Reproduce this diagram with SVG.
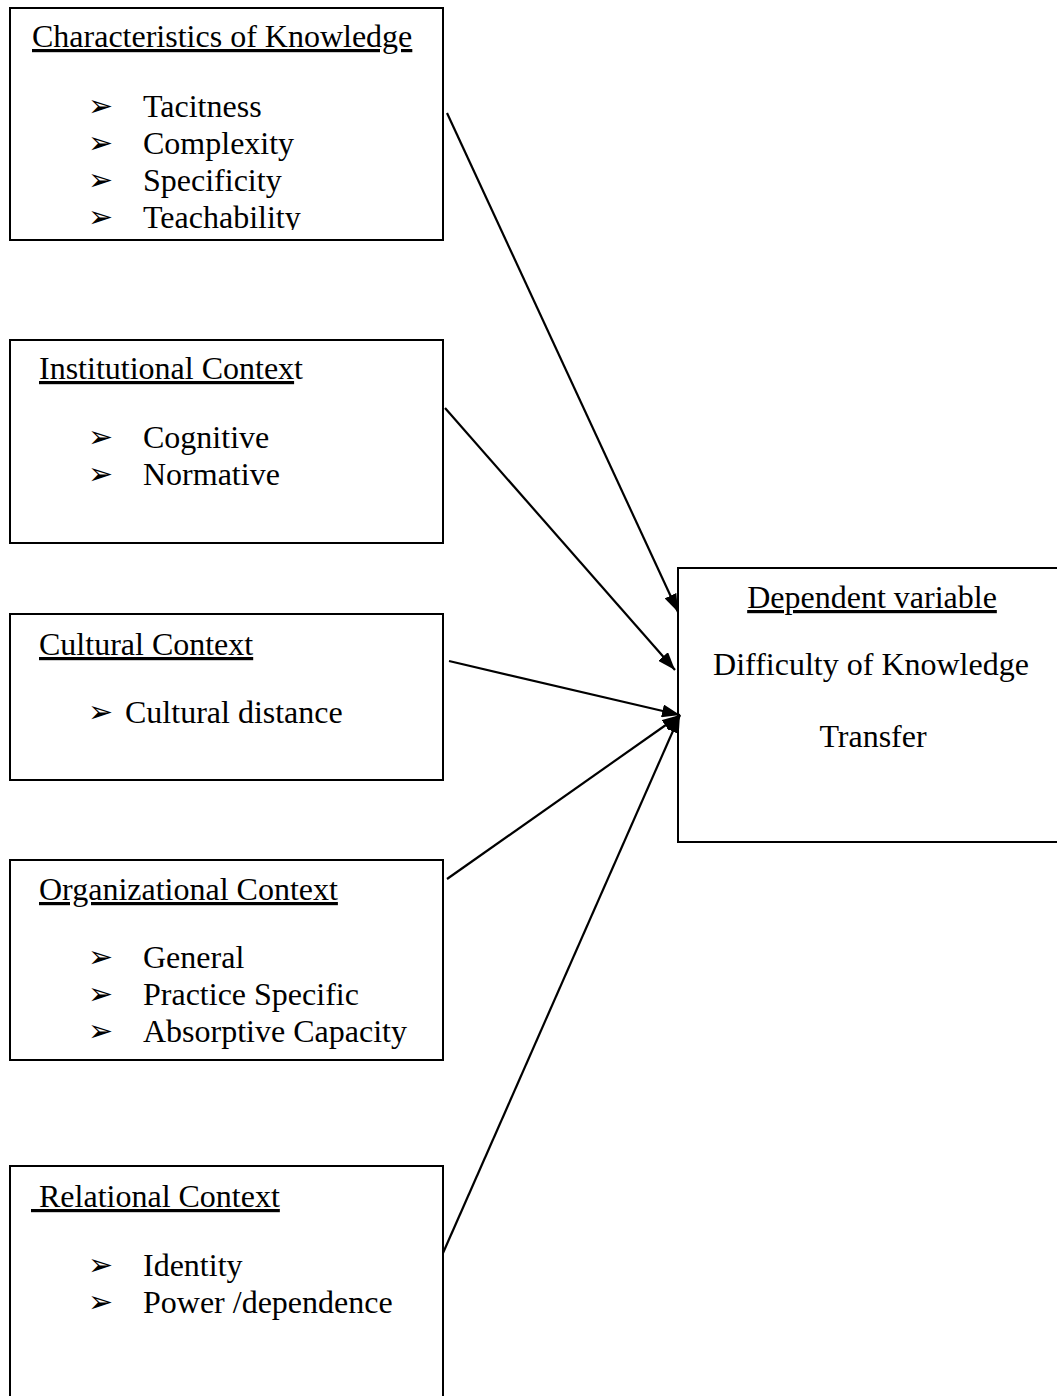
<svg xmlns="http://www.w3.org/2000/svg" width="1057" height="1396" viewBox="0 0 1057 1396">
<style>
.box{fill:#fff;stroke:#000;stroke-width:2}
.t{font-family:"Liberation Serif","Times New Roman",serif;font-size:32px;fill:#000}
.u{text-decoration:underline}
.b{font-family:"DejaVu Sans",sans-serif;font-size:30px;fill:#000}
.c{stroke:#000;stroke-width:2.2;fill:none}
</style>
<defs>
<marker id="ah" markerUnits="userSpaceOnUse" viewBox="0 0 18 13" refX="18" refY="6.5" markerWidth="18" markerHeight="13" orient="auto">
<path d="M0,0 L18,6.5 L0,13 z" fill="#000"/>
</marker>
<clipPath id="clip1"><rect x="10" y="8" width="433" height="222"/></clipPath>
</defs>
<rect width="1057" height="1396" fill="#fff"/>
<g id="node-characteristics">
<rect class="box" x="10" y="8" width="433" height="232"/>
<text class="t u" x="32" y="47">Characteristics of Knowledge</text>
<g clip-path="url(#clip1)">
<text class="b" x="88" y="116">➢</text><text class="t" x="143" y="117">Tacitness</text>
<text class="b" x="88" y="153">➢</text><text class="t" x="143" y="154">Complexity</text>
<text class="b" x="88" y="190">➢</text><text class="t" x="143" y="191">Specificity</text>
<text class="b" x="88" y="227">➢</text><text class="t" x="143" y="228">Teachability</text>
</g>
</g>
<g id="node-institutional">
<rect class="box" x="10" y="340" width="433" height="203"/>
<text class="t" x="39" y="379"><tspan class="u">Institutional Contex</tspan>t</text>
<text class="b" x="88" y="447">➢</text><text class="t" x="143" y="448">Cognitive</text>
<text class="b" x="88" y="484">➢</text><text class="t" x="143" y="485">Normative</text>
</g>
<g id="node-cultural">
<rect class="box" x="10" y="614" width="433" height="166"/>
<text class="t u" x="39" y="655">Cultural Context</text>
<text class="b" x="88" y="722">➢</text><text class="t" x="125" y="723">Cultural distance</text>
</g>
<g id="node-organizational">
<rect class="box" x="10" y="860" width="433" height="200"/>
<text class="t u" x="39" y="900">Organizational Context</text>
<text class="b" x="88" y="967">➢</text><text class="t" x="143" y="968">General</text>
<text class="b" x="88" y="1004">➢</text><text class="t" x="143" y="1005">Practice Specific</text>
<text class="b" x="88" y="1041">➢</text><text class="t" x="143" y="1042">Absorptive Capacity</text>
</g>
<g id="node-relational">
<rect class="box" x="10" y="1166" width="433" height="260"/>
<text class="t u" x="31" y="1207">&#160;Relational Context</text>
<text class="b" x="88" y="1275">➢</text><text class="t" x="143" y="1276">Identity</text>
<text class="b" x="88" y="1312">➢</text><text class="t" x="143" y="1313">Power /dependence</text>
</g>
<g id="node-dependent">
<rect class="box" x="678" y="568" width="400" height="274"/>
<text class="t u" x="872" y="608" text-anchor="middle">Dependent variable</text>
<text class="t" x="871" y="675" text-anchor="middle">Difficulty of Knowledge</text>
<text class="t" x="873" y="747" text-anchor="middle">Transfer</text>
</g>
<g id="connectors">
<line class="c" x1="447" y1="113" x2="678" y2="612" marker-end="url(#ah)"/>
<line class="c" x1="445" y1="408" x2="675" y2="670" marker-end="url(#ah)"/>
<line class="c" x1="449" y1="661" x2="680" y2="715" marker-end="url(#ah)"/>
<line class="c" x1="447" y1="879" x2="680" y2="715" marker-end="url(#ah)"/>
<line class="c" x1="443" y1="1253" x2="680" y2="715" marker-end="url(#ah)"/>
</g>
</svg>
